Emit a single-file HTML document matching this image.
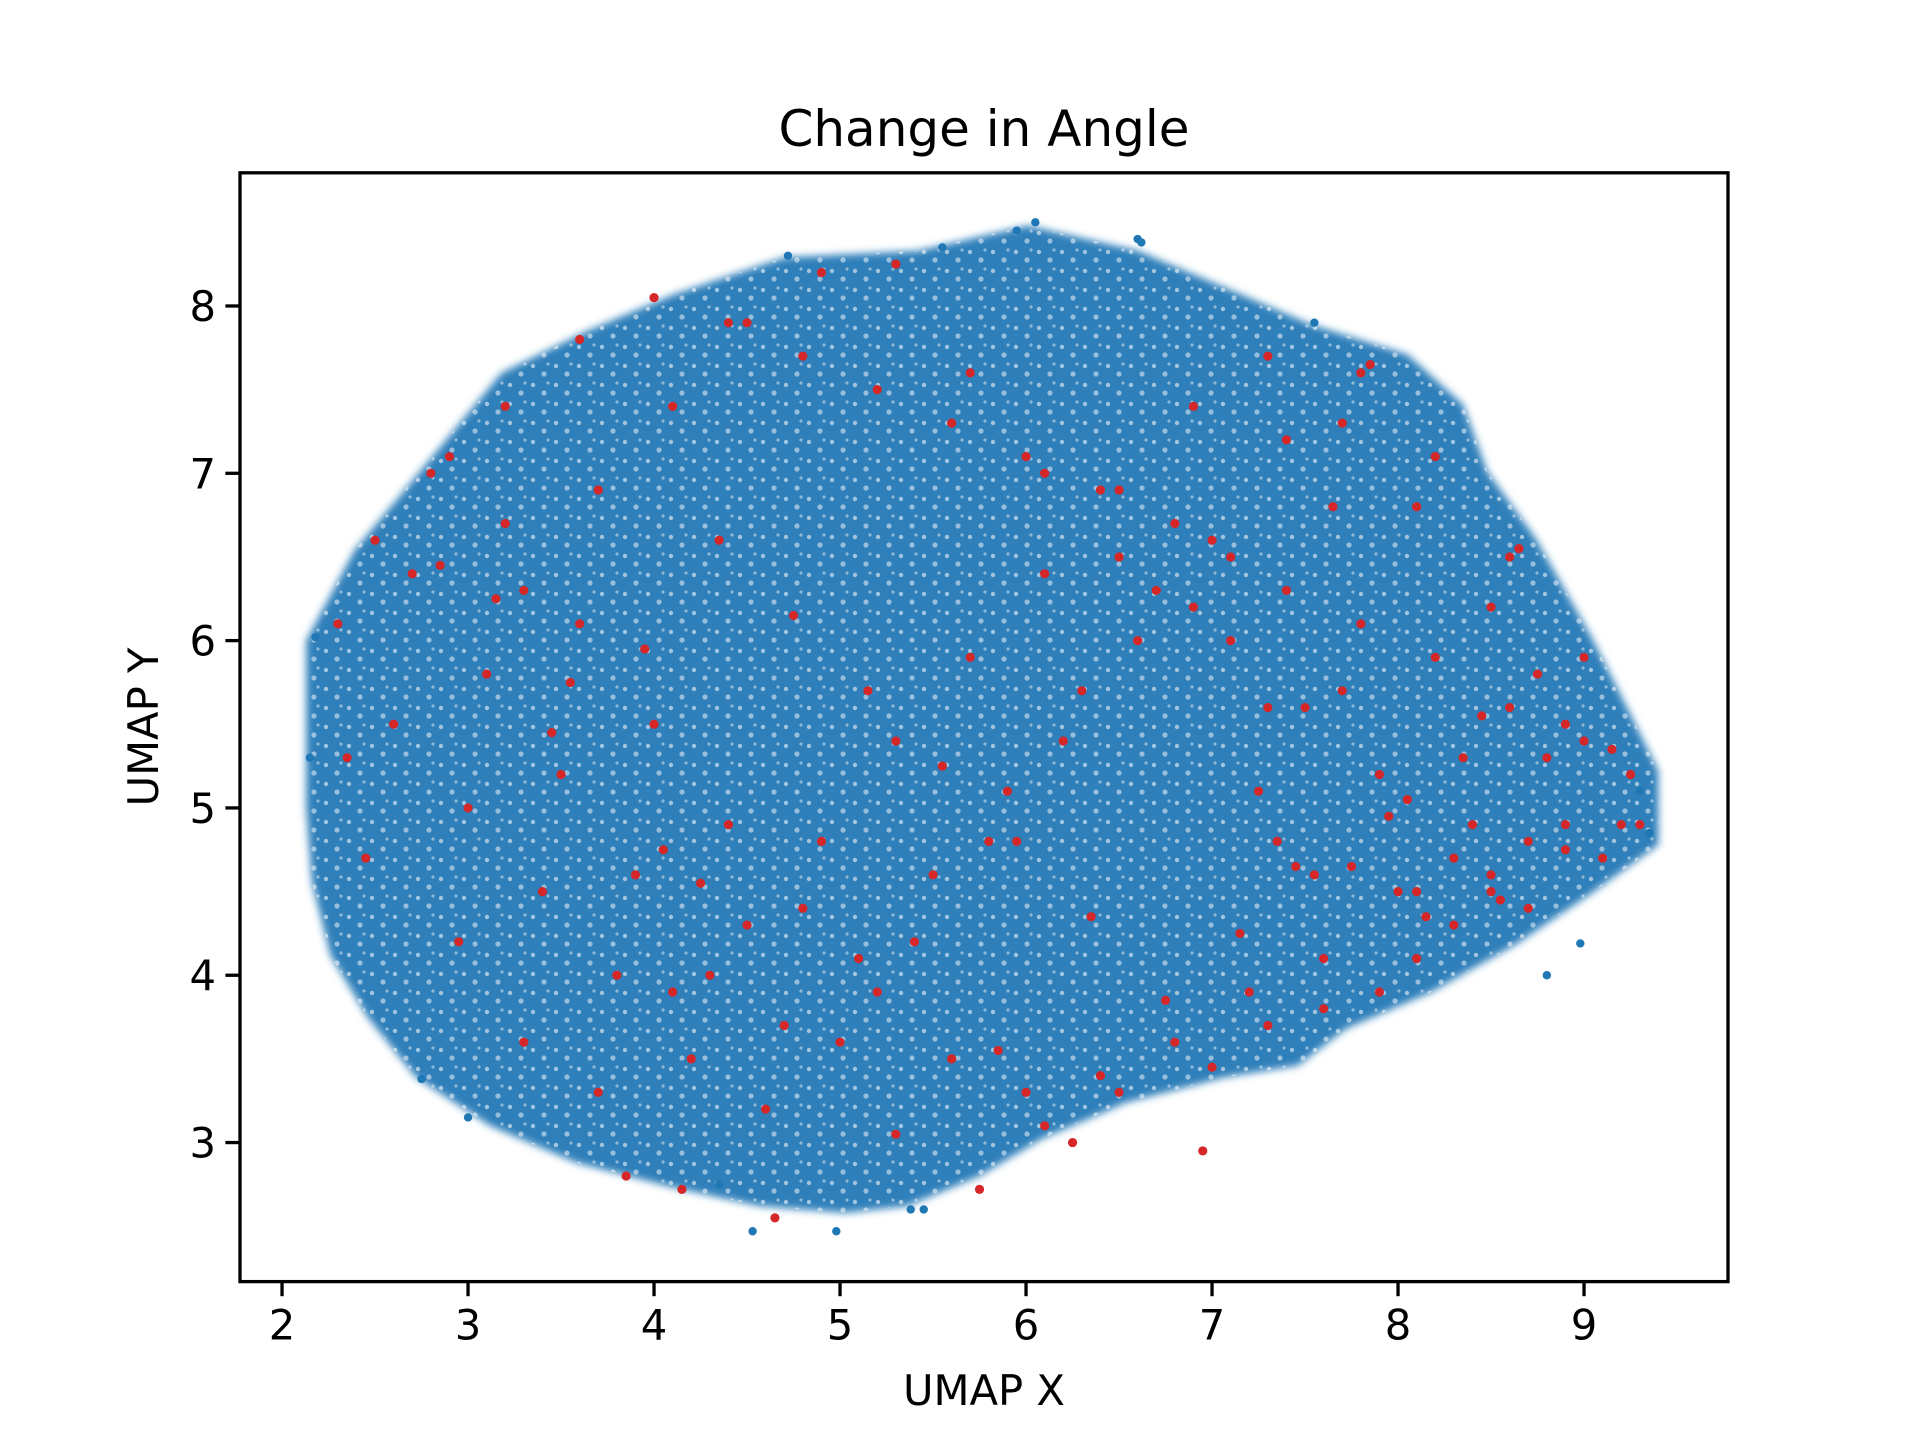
<!DOCTYPE html>
<html><head><meta charset="utf-8"><style>
html,body{margin:0;padding:0;background:#fff;}
svg{display:block;font-family:"DejaVu Sans","Liberation Sans",sans-serif;}
</style></head><body>
<svg id="chart" width="1920" height="1440" viewBox="0 0 1920 1440">
<defs>
<filter id="soft" x="-5%" y="-5%" width="110%" height="110%"><feGaussianBlur stdDeviation="4"/></filter>
<pattern id="speck" width="23" height="19" patternUnits="userSpaceOnUse">
<circle cx="4" cy="5" r="2.2" fill="#fff" opacity="0.55"/>
<circle cx="15" cy="13" r="2.6" fill="#fff" opacity="0.5"/>
<circle cx="19" cy="3" r="1.6" fill="#fff" opacity="0.45"/>
</pattern>
<clipPath id="plotclip"><rect x="240" y="172.8" width="1488" height="1108.8"/></clipPath>
</defs>
<rect x="0" y="0" width="1920" height="1440" fill="#fff"/>
<text x="984" y="146" text-anchor="middle" font-size="50" fill="#000">Change in Angle</text>
<g id="plot" clip-path="url(#plotclip)"></g>
<rect x="240" y="172.8" width="1488" height="1108.8" fill="none" stroke="#000" stroke-width="3.3"/>
<g id="xticks"></g>
<g id="yticks"></g>
<text x="984" y="1405" text-anchor="middle" font-size="41.7" fill="#000">UMAP X</text>
<text x="0" y="0" text-anchor="middle" font-size="41.7" fill="#000" transform="translate(158,727) rotate(-90)">UMAP Y</text>
</svg>
<script>
const xTicks = [2,3,4,5,6,7,8,9];
const yTicks = [3,4,5,6,7,8];
const hullX = [2.13,2.13,2.39,2.72,3.18,3.64,4.11,4.7,5.42,6.01,6.6,7.07,7.53,8.05,8.35,8.48,8.74,9.04,9.24,9.4,9.4,9.04,8.64,8.18,7.72,7.46,7.07,6.54,6.08,5.75,5.36,5.03,4.57,4.11,3.58,3.12,2.72,2.46,2.26,2.16];
const hullY = [5.0,6.0,6.54,6.98,7.6,7.85,8.07,8.29,8.33,8.48,8.33,8.11,7.89,7.71,7.41,7.01,6.61,6.02,5.58,5.22,4.78,4.49,4.19,3.9,3.68,3.46,3.39,3.24,3.02,2.8,2.62,2.58,2.62,2.73,2.88,3.1,3.39,3.75,4.12,4.56];
const blueX = [4.53,4.98,5.45,5.38,8.98,9.35,2.18,2.15,6.6,6.05,5.95,7.55,8.8,4.35,3.0,2.75,9.3,6.62,5.55,4.72];
const blueY = [2.47,2.47,2.6,2.6,4.19,4.85,6.02,5.3,8.4,8.5,8.45,7.9,4.0,2.75,3.15,3.38,5.1,8.38,8.35,8.3];
const redX = [5.75,4.65,4.15,3.85,5.3,6.1,6.5,7.0,7.3,7.6,7.9,8.1,8.3,8.5,8.7,8.9,9.1,9.25,9.0,8.6,8.2,7.8,7.4,7.1,6.8,6.4,6.0,5.6,5.2,4.8,4.4,4.0,3.6,3.2,2.8,2.5,2.3,2.6,3.0,3.4,3.8,4.2,4.6,5.0,5.4,5.8,6.2,6.6,7.0,7.4,7.8,8.2,8.6,9.0,8.8,8.4,8.0,7.6,7.2,6.8,6.4,6.0,5.6,5.2,4.8,4.4,4.0,3.6,3.2,2.9,2.7,3.1,3.5,3.9,4.3,4.7,5.1,5.5,5.9,6.3,6.7,7.1,7.5,7.9,8.3,8.7,9.2,8.9,8.5,8.1,7.7,7.3,6.9,6.5,6.1,5.7,5.3,4.9,4.5,4.1,3.7,3.3,2.95,2.45,2.35,3.3,3.7,4.1,4.5,4.9,5.3,5.7,6.1,6.5,6.9,7.3,7.7,8.1,8.5,8.9,9.3,9.15,8.75,8.35,7.95,7.55,7.15,6.75,6.35,5.95,5.55,5.15,4.75,4.35,3.95,3.55,3.15,2.85,7.35,7.45,7.25,8.05,8.15,8.45,8.55,8.65,7.65,7.85,6.95,6.25,5.85,4.05,4.25,3.45,7.75,8.25,8.95,9.05];
const redY = [2.72,2.55,2.72,2.8,3.05,3.1,3.3,3.45,3.7,3.8,3.9,4.1,4.3,4.6,4.8,4.9,4.7,5.2,5.4,5.6,5.9,6.1,6.3,6.5,6.7,6.9,7.1,7.3,7.5,7.7,7.9,8.05,7.8,7.4,7.0,6.6,6.1,5.5,5.0,4.5,4.0,3.5,3.2,3.6,4.2,4.8,5.4,6.0,6.6,7.2,7.6,7.1,6.5,5.9,5.3,4.9,4.5,4.1,3.9,3.6,3.4,3.3,3.5,3.9,4.4,4.9,5.5,6.1,6.7,7.1,6.4,5.8,5.2,4.6,4.0,3.7,4.1,4.6,5.1,5.7,6.3,6.0,5.6,5.2,4.7,4.4,4.9,5.5,6.2,6.8,7.3,7.7,7.4,6.9,6.4,5.9,5.4,4.8,4.3,3.9,3.3,3.6,4.2,4.7,5.3,6.3,6.9,7.4,7.9,8.2,8.25,7.6,7.0,6.5,6.2,5.6,5.7,4.5,4.5,4.75,4.9,5.35,5.8,5.3,4.95,4.6,4.25,3.85,4.35,4.8,5.25,5.7,6.15,6.6,5.95,5.75,6.25,6.45,4.8,4.65,5.1,5.05,4.35,5.55,4.45,6.55,6.8,7.65,2.95,3.0,3.55,4.75,4.55,5.45,4.65];
const X0=1.774, X1=9.774, Y0=2.169, Y1=8.796;
const L=240, R=1728, T=172.8, B=1281.6;
function sx(v){return L+(v-X0)/(X1-X0)*(R-L);}
function sy(v){return B-(v-Y0)/(Y1-Y0)*(B-T);}
const NS='http://www.w3.org/2000/svg';
const plot=document.getElementById('plot');
const pts=hullX.map((x,i)=>sx(x)+','+sy(hullY[i])).join(' ');
const hull=document.createElementNS(NS,'polygon');
hull.setAttribute('points',pts);
hull.setAttribute('fill','#2f7fba');
hull.setAttribute('filter','url(#soft)');


plot.appendChild(hull);
const sp=document.createElementNS(NS,'polygon');
sp.setAttribute('points',pts);
sp.setAttribute('fill','url(#speck)');


plot.appendChild(sp);
blueX.forEach((x,i)=>{
  const c=document.createElementNS(NS,'circle');
  c.setAttribute('cx',sx(x));c.setAttribute('cy',sy(blueY[i]));c.setAttribute('r',4.2);c.setAttribute('fill','#1f77b4');
  
  
  plot.appendChild(c);
});
redX.forEach((x,i)=>{
  const c=document.createElementNS(NS,'circle');
  c.setAttribute('cx',sx(x));c.setAttribute('cy',sy(redY[i]));c.setAttribute('r',4.6);c.setAttribute('fill','#d62728');
  
  
  plot.appendChild(c);
});
const xg=document.getElementById('xticks');
xTicks.forEach(t=>{
  const l=document.createElementNS(NS,'line');
  l.setAttribute('x1',sx(t));l.setAttribute('x2',sx(t));l.setAttribute('y1',B);l.setAttribute('y2',B+14.6);
  l.setAttribute('stroke','#000');l.setAttribute('stroke-width',3.3);
  
  
  xg.appendChild(l);
  const tx=document.createElementNS(NS,'text');
  tx.setAttribute('x',sx(t));tx.setAttribute('y',B+58);tx.setAttribute('text-anchor','middle');tx.setAttribute('font-size','41.7');
  tx.textContent=t;
  
  
  xg.appendChild(tx);
});
const yg=document.getElementById('yticks');
yTicks.forEach(t=>{
  const l=document.createElementNS(NS,'line');
  l.setAttribute('x1',L-14.6);l.setAttribute('x2',L);l.setAttribute('y1',sy(t));l.setAttribute('y2',sy(t));
  l.setAttribute('stroke','#000');l.setAttribute('stroke-width',3.3);
  
  
  yg.appendChild(l);
  const tx=document.createElementNS(NS,'text');
  tx.setAttribute('x',L-24);tx.setAttribute('y',sy(t)+15);tx.setAttribute('text-anchor','end');tx.setAttribute('font-size','41.7');
  tx.textContent=t;
  
  
  yg.appendChild(tx);
});
</script>
</body></html>
